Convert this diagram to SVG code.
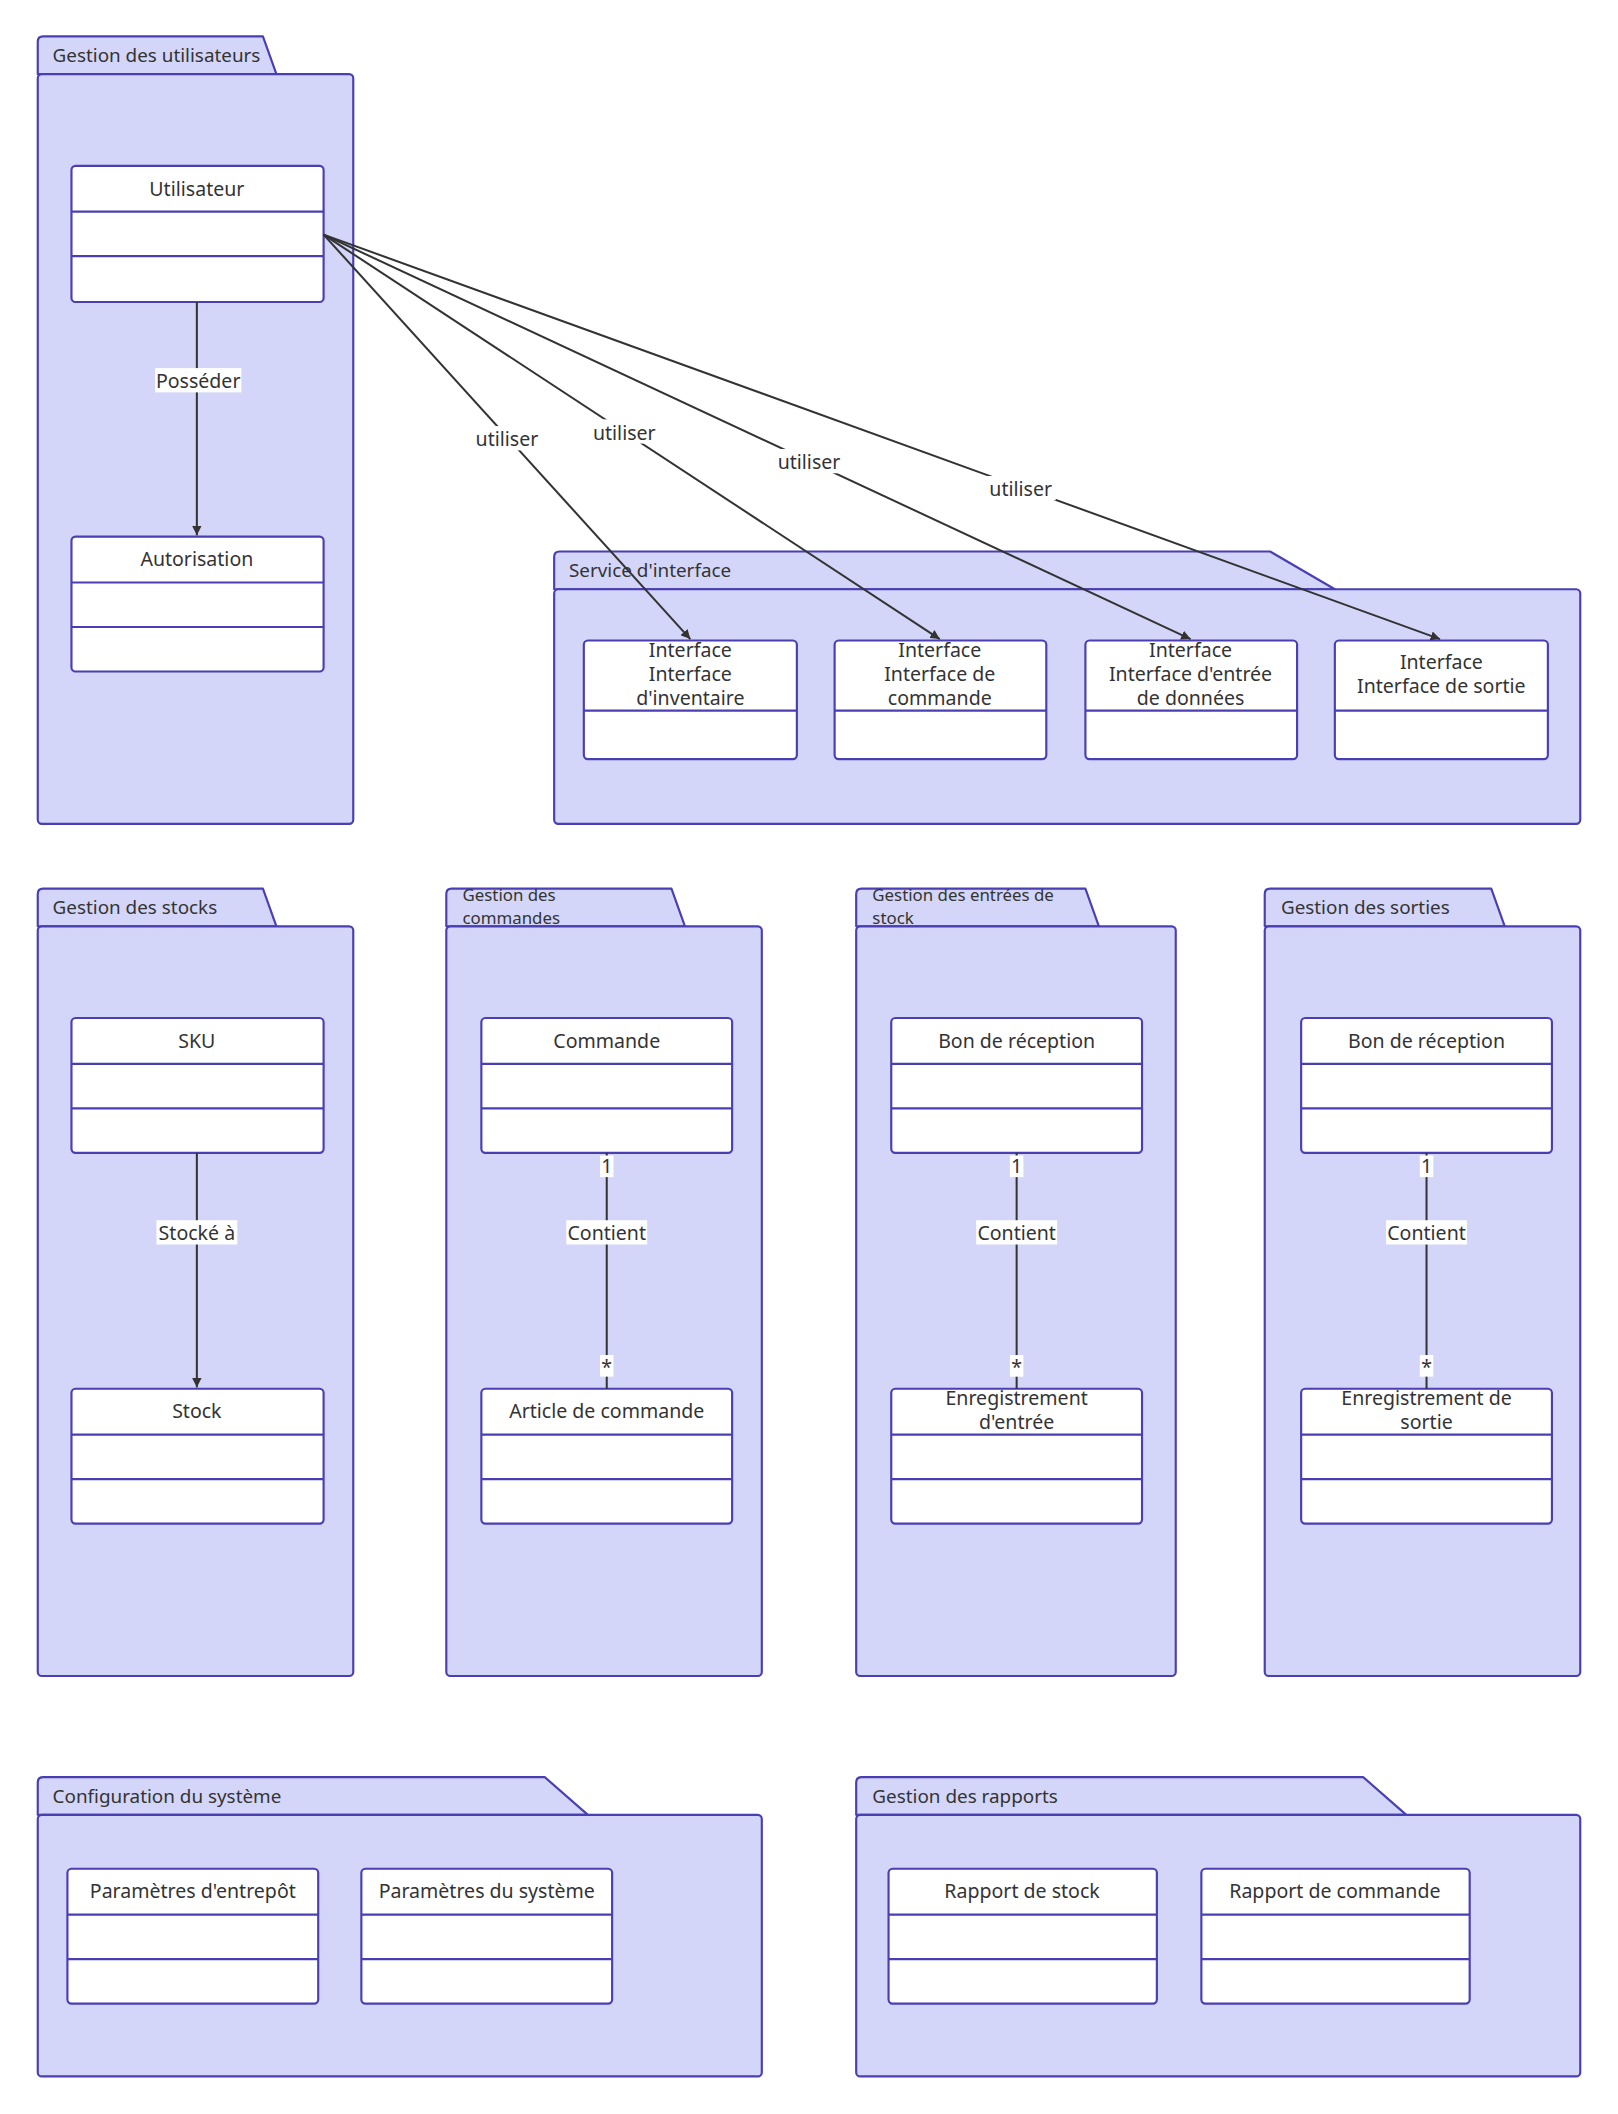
<svg xmlns="http://www.w3.org/2000/svg" width="1618" height="2114" viewBox="0 0 1618 2114">
<defs>
<style>
.pk{fill:#d3d6f8;stroke:#4a3fb2;stroke-width:1.6;stroke-linejoin:round}
.cl{fill:#fff;stroke:#4a3fb2;stroke-width:1.6}
.dv{stroke:#4a3fb2;stroke-width:1.6}
text{font-family:"Noto Sans","Liberation Sans",sans-serif;font-size:14.5px;fill:#333}
.t{font-size:14px}
.s{font-size:12.5px}
.c{text-anchor:middle}
.e{stroke:#333;stroke-width:1.5;fill:none}
.lb{fill:#fff}
</style>
<marker id="a" viewBox="0 0 10 10" refX="10" refY="5" markerWidth="7" markerHeight="7" orient="auto" markerUnits="userSpaceOnUse"><path d="M0,0L10,5L0,10z" fill="#333"/></marker>
</defs>
<rect width="1618" height="2114" fill="#fff"/>
<g transform="scale(1.34833)">
<g id="pkg-users">
<path class="pk" d="M28,55V31Q28,27 32,27H195L205,55Z"/>
<rect class="pk" x="28" y="55" width="234" height="556" rx="3"/>
<text class="t" x="39" y="46">Gestion des utilisateurs</text>
</g>
<g id="pkg-interface">
<path class="pk" d="M411,437V413Q411,409 415,409H942L990,437Z"/>
<rect class="pk" x="411" y="437" width="761" height="174" rx="3"/>
<text class="t" x="422" y="428">Service d'interface</text>
</g>
<g id="pkg-stocks">
<path class="pk" d="M28,687V663Q28,659 32,659H195L205,687Z"/>
<rect class="pk" x="28" y="687" width="234" height="556" rx="3"/>
<text class="t" x="39" y="678">Gestion des stocks</text>
</g>
<g id="pkg-commandes">
<path class="pk" d="M331,687V663Q331,659 335,659H498L508,687Z"/>
<rect class="pk" x="331" y="687" width="234" height="556" rx="3"/>
<text class="s" x="343" y="668">Gestion des</text>
<text class="s" x="343" y="685">commandes</text>
</g>
<g id="pkg-entrees">
<path class="pk" d="M635,687V663Q635,659 639,659H805L815,687Z"/>
<rect class="pk" x="635" y="687" width="237" height="556" rx="3"/>
<text class="s" x="647" y="668">Gestion des entrées de</text>
<text class="s" x="647" y="685">stock</text>
</g>
<g id="pkg-sorties">
<path class="pk" d="M938,687V663Q938,659 942,659H1106L1116,687Z"/>
<rect class="pk" x="938" y="687" width="234" height="556" rx="3"/>
<text class="t" x="950" y="678">Gestion des sorties</text>
</g>
<g id="pkg-config">
<path class="pk" d="M28,1346V1322Q28,1318 32,1318H404L436,1346Z"/>
<rect class="pk" x="28" y="1346" width="537" height="194" rx="3"/>
<text class="t" x="39" y="1337">Configuration du système</text>
</g>
<g id="pkg-rapports">
<path class="pk" d="M635,1346V1322Q635,1318 639,1318H1011L1043,1346Z"/>
<rect class="pk" x="635" y="1346" width="537" height="194" rx="3"/>
<text class="t" x="647" y="1337">Gestion des rapports</text>
</g>

<g id="utilisateur"><rect class="cl" x="53" y="123" width="187" height="101" rx="3"/><line class="dv" x1="53" y1="157" x2="240" y2="157"/><line class="dv" x1="53" y1="190" x2="240" y2="190"/><text class="c" x="146" y="145">Utilisateur</text></g>
<g id="autorisation"><rect class="cl" x="53" y="398" width="187" height="100" rx="3"/><line class="dv" x1="53" y1="432" x2="240" y2="432"/><line class="dv" x1="53" y1="465" x2="240" y2="465"/><text class="c" x="146" y="420">Autorisation</text></g>

<g id="if-inventaire"><rect class="cl" x="433" y="475" width="158" height="88" rx="3"/><line class="dv" x1="433" y1="527" x2="591" y2="527"/><text class="c" x="512" y="487">Interface</text><text class="c" x="512" y="505">Interface</text><text class="c" x="512" y="523">d'inventaire</text></g>
<g id="if-commande"><rect class="cl" x="619" y="475" width="157" height="88" rx="3"/><line class="dv" x1="619" y1="527" x2="776" y2="527"/><text class="c" x="697" y="487">Interface</text><text class="c" x="697" y="505">Interface de</text><text class="c" x="697" y="523">commande</text></g>
<g id="if-entree"><rect class="cl" x="805" y="475" width="157" height="88" rx="3"/><line class="dv" x1="805" y1="527" x2="962" y2="527"/><text class="c" x="883" y="487">Interface</text><text class="c" x="883" y="505">Interface d'entrée</text><text class="c" x="883" y="523">de données</text></g>
<g id="if-sortie"><rect class="cl" x="990" y="475" width="158" height="88" rx="3"/><line class="dv" x1="990" y1="527" x2="1148" y2="527"/><text class="c" x="1069" y="496">Interface</text><text class="c" x="1069" y="514">Interface de sortie</text></g>

<g id="sku"><rect class="cl" x="53" y="755" width="187" height="100" rx="3"/><line class="dv" x1="53" y1="789" x2="240" y2="789"/><line class="dv" x1="53" y1="822" x2="240" y2="822"/><text class="c" x="146" y="777">SKU</text></g>
<g id="stock"><rect class="cl" x="53" y="1030" width="187" height="100" rx="3"/><line class="dv" x1="53" y1="1064" x2="240" y2="1064"/><line class="dv" x1="53" y1="1097" x2="240" y2="1097"/><text class="c" x="146" y="1052">Stock</text></g>
<g id="commande"><rect class="cl" x="357" y="755" width="186" height="100" rx="3"/><line class="dv" x1="357" y1="789" x2="543" y2="789"/><line class="dv" x1="357" y1="822" x2="543" y2="822"/><text class="c" x="450" y="777">Commande</text></g>
<g id="article"><rect class="cl" x="357" y="1030" width="186" height="100" rx="3"/><line class="dv" x1="357" y1="1064" x2="543" y2="1064"/><line class="dv" x1="357" y1="1097" x2="543" y2="1097"/><text class="c" x="450" y="1052">Article de commande</text></g>
<g id="bon-entree"><rect class="cl" x="661" y="755" width="186" height="100" rx="3"/><line class="dv" x1="661" y1="789" x2="847" y2="789"/><line class="dv" x1="661" y1="822" x2="847" y2="822"/><text class="c" x="754" y="777">Bon de réception</text></g>
<g id="enr-entree"><rect class="cl" x="661" y="1030" width="186" height="100" rx="3"/><line class="dv" x1="661" y1="1064" x2="847" y2="1064"/><line class="dv" x1="661" y1="1097" x2="847" y2="1097"/><text class="c" x="754" y="1042">Enregistrement</text><text class="c" x="754" y="1060">d'entrée</text></g>
<g id="bon-sortie"><rect class="cl" x="965" y="755" width="186" height="100" rx="3"/><line class="dv" x1="965" y1="789" x2="1151" y2="789"/><line class="dv" x1="965" y1="822" x2="1151" y2="822"/><text class="c" x="1058" y="777">Bon de réception</text></g>
<g id="enr-sortie"><rect class="cl" x="965" y="1030" width="186" height="100" rx="3"/><line class="dv" x1="965" y1="1064" x2="1151" y2="1064"/><line class="dv" x1="965" y1="1097" x2="1151" y2="1097"/><text class="c" x="1058" y="1042">Enregistrement de</text><text class="c" x="1058" y="1060">sortie</text></g>

<g id="param-entrepot"><rect class="cl" x="50" y="1386" width="186" height="100" rx="3"/><line class="dv" x1="50" y1="1420" x2="236" y2="1420"/><line class="dv" x1="50" y1="1453" x2="236" y2="1453"/><text class="c" x="143" y="1408">Paramètres d'entrepôt</text></g>
<g id="param-systeme"><rect class="cl" x="268" y="1386" width="186" height="100" rx="3"/><line class="dv" x1="268" y1="1420" x2="454" y2="1420"/><line class="dv" x1="268" y1="1453" x2="454" y2="1453"/><text class="c" x="361" y="1408">Paramètres du système</text></g>
<g id="rapport-stock"><rect class="cl" x="659" y="1386" width="199" height="100" rx="3"/><line class="dv" x1="659" y1="1420" x2="858" y2="1420"/><line class="dv" x1="659" y1="1453" x2="858" y2="1453"/><text class="c" x="758" y="1408">Rapport de stock</text></g>
<g id="rapport-commande"><rect class="cl" x="891" y="1386" width="199" height="100" rx="3"/><line class="dv" x1="891" y1="1420" x2="1090" y2="1420"/><line class="dv" x1="891" y1="1453" x2="1090" y2="1453"/><text class="c" x="990" y="1408">Rapport de commande</text></g>

<g id="connectors">
<path class="e" d="M146,224V397" marker-end="url(#a)"/>
<rect class="lb" x="115" y="273" width="64" height="18"/><text class="c" x="147" y="288">Posséder</text>
<path class="e" d="M240,174L512,474" marker-end="url(#a)"/>
<path class="e" d="M240,174L697,474" marker-end="url(#a)"/>
<path class="e" d="M240,174L883,474" marker-end="url(#a)"/>
<path class="e" d="M240,174L1068,474" marker-end="url(#a)"/>
<rect class="lb" x="350" y="316" width="52" height="18"/><text class="c" x="376" y="331">utiliser</text>
<rect class="lb" x="437" y="311" width="52" height="18"/><text class="c" x="463" y="326">utiliser</text>
<rect class="lb" x="574" y="333" width="52" height="18"/><text class="c" x="600" y="348">utiliser</text>
<rect class="lb" x="731" y="353" width="52" height="18"/><text class="c" x="757" y="368">utiliser</text>
<path class="e" d="M146,855V1029" marker-end="url(#a)"/>
<rect class="lb" x="116" y="905" width="60" height="18"/><text class="c" x="146" y="920">Stocké à</text>
<path class="e" d="M450,855V1030"/>
<path class="e" d="M754,855V1030"/>
<path class="e" d="M1058,855V1030"/>
<g>
<rect class="lb" x="445" y="857" width="10" height="16"/><text class="c" x="450" y="870">1</text>
<rect class="lb" x="420" y="905" width="60" height="18"/><text class="c" x="450" y="920">Contient</text>
<rect class="lb" x="445" y="1005" width="10" height="16"/><text class="c" x="450" y="1019">*</text>
<rect class="lb" x="749" y="857" width="10" height="16"/><text class="c" x="754" y="870">1</text>
<rect class="lb" x="724" y="905" width="60" height="18"/><text class="c" x="754" y="920">Contient</text>
<rect class="lb" x="749" y="1005" width="10" height="16"/><text class="c" x="754" y="1019">*</text>
<rect class="lb" x="1053" y="857" width="10" height="16"/><text class="c" x="1058" y="870">1</text>
<rect class="lb" x="1028" y="905" width="60" height="18"/><text class="c" x="1058" y="920">Contient</text>
<rect class="lb" x="1053" y="1005" width="10" height="16"/><text class="c" x="1058" y="1019">*</text>
</g>
</g>
</g>
</svg>
